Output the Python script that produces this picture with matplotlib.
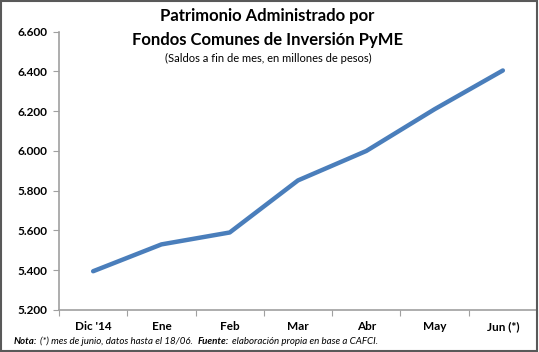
import numpy as np
import matplotlib.pyplot as plt
from matplotlib.patches import Rectangle
from matplotlib.ticker import FuncFormatter

meses = ["Dic '14", "Ene", "Feb", "Mar", "Abr", "May", "Jun (*)"]
patrimonio = [5395, 5530, 5590, 5852, 6000, 6210, 6405]
yticks = [5200, 5400, 5600, 5800, 6000, 6200, 6400, 6600]

plt.rcParams['font.family'] = ['Lato', 'DejaVu Sans']

fig = plt.figure(figsize=(5.39, 3.52), dpi=100)
ax = fig.add_axes([59 / 539, 42 / 352, 478 / 539, 278.3 / 352])

x = np.arange(len(meses))
ax.plot(x, patrimonio, color='#4A7EBB', lw=3.2, solid_capstyle='round', solid_joinstyle='round')

ax.set_xlim(-0.5, len(meses) - 0.5)
ax.set_ylim(5200, 6600)
ax.set_yticks(yticks)
ax.yaxis.set_major_formatter(FuncFormatter(lambda v, p: f"{v/1000:.3f}"))
ax.set_xticks(np.arange(len(meses) + 1) - 0.5)
ax.set_xticklabels([])
ax.set_xticks(x, minor=True)
ax.set_xticklabels(meses, minor=True)
ax.tick_params(axis='x', which='minor', length=0, pad=8)
ax.tick_params(axis='x', which='major', length=4, color='#A0A0A0')
ax.tick_params(axis='y', length=4.3, color='#A0A0A0', pad=4.3)
for lab in ax.get_xticklabels(minor=True) + ax.get_yticklabels():
    lab.set_fontweight('bold')
    lab.set_fontsize(8.5)

for s in ['top', 'right']:
    ax.spines[s].set_visible(False)
for s in ['left', 'bottom']:
    ax.spines[s].set_color('#A0A0A0')
    ax.spines[s].set_linewidth(1.2)

fig.text(0.495, 0.955, "Patrimonio Administrado por", ha='center', va='center',
         fontsize=12, fontweight='bold')
fig.text(0.497, 0.885, "Fondos Comunes de Inversión PyME", ha='center', va='center',
         fontsize=12, fontweight='bold')
fig.text(0.497, 0.833, "(Saldos a fin de mes, en millones de pesos)", ha='center', va='center',
         fontsize=8)

fn = 7
fig.text(14 / 539, 0.03, "Nota:", fontsize=fn, style='italic', fontweight='bold', va='center')
fig.text(40 / 539, 0.03, "(*) mes de junio, datos hasta el 18/06.", fontsize=fn, style='italic', va='center')
fig.text(198 / 539, 0.03, "Fuente:", fontsize=fn, style='italic', fontweight='bold', va='center')
fig.text(232 / 539, 0.03, "elaboración propia en base a CAFCI.", fontsize=fn, style='italic', va='center')

fig.patches.append(Rectangle((0.002, 0.003), 0.995, 0.994, transform=fig.transFigure,
                             fill=False, edgecolor='#595959', lw=1.5))

fig.savefig('out.png', dpi=100)
